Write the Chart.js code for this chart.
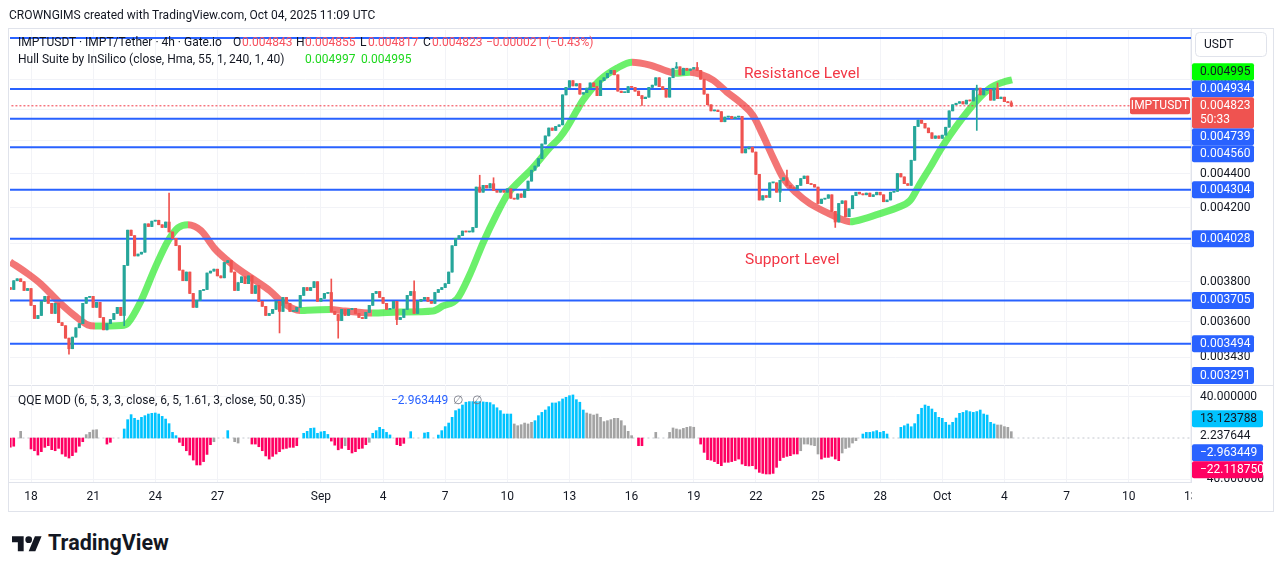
<!DOCTYPE html>
<html>
<head>
<meta charset="utf-8">
<script src="https://cdn.jsdelivr.net/npm/chart.js@4/dist/chart.umd.min.js"></script>
<style>
  body { margin: 0; width: 1281px; height: 571px; background: #fff; position: relative; overflow: hidden; font-family: Roboto, sans-serif; color: #131722; }
  canvas { position: absolute; left: 0; }
  .t { position: absolute; white-space: nowrap; font-size: 12px; line-height: 14px; }
  .hl { position: absolute; background: #e0e3eb; }
  .red { color: #f7525f; }
  .grn { color: #1ed81e; }
</style>
</head>
<body>
<div class="hl" style="left:8px;top:28px;width:1265px;height:1px"></div>
<div class="hl" style="left:8px;top:511px;width:1265px;height:1px"></div>
<div class="hl" style="left:8px;top:28px;width:1px;height:484px"></div>
<div class="hl" style="left:1273px;top:28px;width:1px;height:484px"></div>
<div class="hl" style="left:8px;top:385px;width:1265px;height:1px"></div>
<div class="hl" style="left:8px;top:482px;width:1265px;height:1px"></div>
<div class="hl" style="left:1191px;top:28px;width:1px;height:454px"></div>

<canvas id="main" width="1281" height="385" style="top:0"></canvas>
<canvas id="qqe" width="1281" height="125" style="top:385px"></canvas>

<div class="t" style="left:9px;top:8px">CROWNGIMS created with TradingView.com, Oct 04, 2025 11:09 UTC</div>

<div class="t" style="left:18px;top:35px">IMPTUSDT · IMPT/Tether · 4h · Gate.io</div>
<div class="t" style="left:233px;top:35px">O</div><div class="t red" style="left:242px;top:35px">0.004843</div>
<div class="t" style="left:296px;top:35px">H</div><div class="t red" style="left:305px;top:35px">0.004855</div>
<div class="t" style="left:360px;top:35px">L</div><div class="t red" style="left:368px;top:35px">0.004817</div>
<div class="t" style="left:423px;top:35px">C</div><div class="t red" style="left:432px;top:35px">0.004823</div>
<div class="t red" style="left:486px;top:35px">−0.000021 (−0.43%)</div>

<div class="t" style="left:18px;top:52px">Hull Suite by InSilico (close, Hma, 55, 1, 240, 1, 40)</div>
<div class="t grn" style="left:305px;top:52px">0.004997</div>
<div class="t grn" style="left:361px;top:52px">0.004995</div>

<div class="t" style="left:18px;top:393px">QQE MOD (6, 5, 3, 3, close, 6, 5, 1.61, 3, close, 50, 0.35)</div>
<div class="t" style="left:391px;top:393px;color:#2962ff">−2.963449</div>
<div class="t" style="left:453px;top:393px;color:#787b86">∅</div>
<div class="t" style="left:472px;top:393px;color:#787b86">∅</div>

<div style="position:absolute;left:12px;top:530px;display:flex;align-items:center">
  <svg width="30" height="20" viewBox="0 0 36 24">
    <path d="M14 22H7V11H0V4h14v18zM28 22h-8l7.5-18h8L28 22z" fill="#131722"/>
    <circle cx="20" cy="8" r="4" fill="#131722"/>
  </svg>
  <span style="font:700 21.5px Roboto, sans-serif;margin-left:6px">TradingView</span>
</div>

<script>
// prices are in millionths of USDT (4823 -> 0.004823)
// 4h candles, first one opens 17 Aug 00:00 UTC, last one 4 Oct 08:00 UTC
const firstOpen = 3770;
const closes = [
  3760, 3805, 3815, 3800, 3755, 3765, // Aug 17
  3680, 3615, 3630, 3700, 3725, 3690, // Aug 18
  3640, 3690, 3595, 3580, 3520, 3470,
  3525, 3570, 3590, 3690, 3720, 3725,
  3670, 3695, 3620, 3560, 3590, 3610,
  3640, 3670, 3630, 3885, 4075, 4045,
  3935, 3945, 3955, 4110, 4095, 4125,
  4130, 4105, 4090, 4120, 4065, 4030,
  3990, 3860, 3805, 3850, 3740, 3670,
  3705, 3755, 3760, 3845, 3855, 3865,
  3830, 3820, 3900, 3910, 3850, 3755,
  3795, 3825, 3790, 3830, 3740, 3780,
  3700, 3675, 3630, 3640, 3660, 3700,
  3650, 3720, 3690, 3650, 3650, 3670,
  3730, 3770, 3755, 3770, 3800, 3700, // Aug 31
  3715, 3740, 3745, 3650, 3635, 3605, // Sep 1
  3660, 3630, 3660, 3665, 3640, 3620,
  3615, 3645, 3680, 3740, 3750, 3720,
  3690, 3660, 3665, 3700, 3610, 3620,
  3660, 3730, 3750, 3640, 3700, 3710,
  3720, 3700, 3690, 3745, 3760, 3770,
  3790, 3850, 3990, 4030, 4045, 4070,
  4065, 4065, 4090, 4320, 4290, 4330,
  4315, 4340, 4300, 4290, 4300, 4290,
  4310, 4255, 4250, 4280, 4260, 4300,
  4355, 4420, 4445, 4490, 4580, 4630,
  4680, 4665, 4690, 4700, 4895, 4945,
  4990, 4955, 4970, 4900, 4910, 4940,
  4975, 4950, 4890, 4990, 5010, 5040,
  5060, 5030, 4920, 4910, 4910, 4950,
  4945, 4920, 4890, 4870, 4880, 4945,
  4960, 5010, 4950, 4930, 4880, 5010,
  5075, 5085, 5030, 5075, 5060, 5070,
  5080, 5060, 5000, 4900, 4830, 4790,
  4795, 4785, 4720, 4750, 4755, 4740,
  4750, 4755, 4525, 4550, 4560, 4530,
  4395, 4245, 4270, 4260, 4345, 4345,
  4290, 4360, 4375, 4330, 4315, 4310,
  4330, 4370, 4385, 4340, 4335, 4320,
  4225, 4250, 4255, 4275, 4180, 4120,
  4225, 4240, 4150, 4195, 4270, 4290,
  4280, 4275, 4285, 4265, 4275, 4290,
  4275, 4235, 4245, 4290, 4295, 4400,
  4380, 4340, 4330, 4480, 4690, 4730,
  4710, 4680, 4650, 4615, 4630, 4615, // Sep 30
  4635, 4685, 4790, 4830, 4840, 4850, // Oct 1
  4835, 4860, 4855, 4925, 4940, 4895,
  4925, 4930, 4860, 4940, 4870, 4880,
  4850, 4843, 4823                    // Oct 4
];
// [candle index, price] for the visible wicks
const highWicks = [[46, 4285], [93, 3814], [117, 3805], [136, 4390], [140, 4375], [193, 5115],
  [199, 5115], [225, 4420], [280, 4960], [286, 4975], [290, 4855]];
const lowWicks = [[17, 3445], [33, 3580], [78, 3545], [95, 3520], [112, 3585], [183, 4826],
  [223, 4235], [239, 4090], [280, 4665], [290, 4817]];

// Hull suite: time in days from 18 Aug 00:00 UTC
const hullDays = [-1.01, -0.14, 0.48, 1.30, 2.13, 2.75, 3.09, 4.35, 4.68, 5.31, 5.99, 6.62, 7.10, 7.58,
  8.21, 8.88, 9.51, 10.14, 10.86, 11.54, 12.17, 12.99, 13.33, 14.44, 15.16, 16.47, 17.82, 19.41,
  19.89, 20.57, 21.20, 21.83, 22.50, 23.03, 23.47, 24.24, 25.06, 25.54, 25.88, 26.36, 26.65, 27.47,
  28.30, 29.02, 29.89, 30.71, 31.10, 31.82, 32.30, 32.93, 33.61, 34.24, 34.86, 35.34, 35.83, 36.31,
  36.99, 37.61, 38.43, 39.06, 39.55, 40.37, 41.14, 41.82, 42.44, 42.93, 43.41, 43.89, 44.37, 45.00,
  45.68, 46.31, 46.93, 47.37];
const hullValues = [3904, 3840, 3788, 3702, 3627, 3583, 3578, 3581, 3593, 3702, 3872, 4017, 4088, 4105,
  4072, 3973, 3909, 3856, 3804, 3753, 3692, 3654, 3656, 3659, 3652, 3642, 3647, 3652,
  3677, 3712, 3840, 4006, 4167, 4282, 4341, 4436, 4558, 4621, 4684, 4794, 4859, 4994,
  5076, 5117, 5097, 5055, 5041, 5048, 5035, 4994, 4913, 4846, 4761, 4634, 4497, 4376,
  4282, 4224, 4173, 4139, 4122, 4144, 4173, 4201, 4241, 4341, 4436, 4540, 4634, 4748,
  4859, 4940, 4980, 4996];
const hullLast = 4995;
const lastPrice = 4823;
const countdown = '50:33';

// horizontal lines drawn on the chart
const levelPrices = [5287, 4934, 4739, 4560, 4304, 4028, 3705, 3494, 3291];
const priceTicks = [3430, 3600, 3800, 4000, 4200, 4400, 4600, 4800, 5000];

const dateTicks = [0, 3, 6, 9, 14, 17, 20, 23, 26, 29, 32, 35, 38, 41, 44, 47, 50, 53, 56];
const dateLabels = ['18', '21', '24', '27', 'Sep', '4', '7', '10', '13', '16', '19', '22', '25', '28', 'Oct', '4', '7', '10', '13'];

// QQE MOD histogram, one value per candle; colour codes b blue, p pink, g grey, . none
const qqeValues = [
  -9, -8, null, 6.5, null, null,
  -10.7, -12.4, -16.6, -13.3, -9.1, -7.5,
  -11.4, -12.4, -10.1, -15.6, -17.9, -19.5,
  -17.2, -13.9, -8, -3.6, 3.3, 5.5,
  7.8, 8.1, null, null, -5.9, -4.2,
  null, null, null, 8.8, 17.9, 22.8,
  19.2, 17.4, 20.2, 21.8, 23.4, 24.1,
  24.4, 23.4, 21.1, 18.5, 14, 5.5,
  2.3, -4.2, -7.5, -12.4, -16.6, -21.5,
  -26.3, -26.3, -23, -16, -6.5, -3.6,
  null, null, null, 7.2, null, -3.6,
  -4.9, null, null, null, -5.9, -5.9,
  -8.5, -12.4, -17.5, -20.5, -17.9, -15.6,
  -13.3, -10.7, -10.1, -9.1, -9.1, -7.5,
  null, 4.6, 6.5, 9.4, 9.8, 4.6,
  6, 6.5, 3.5, -3, -7, -11.5,
  -10.1, -7.5, -11.4, -14.6, -13.3, -10.5,
  -10, -6.5, -4.2, 4.6, 7.2, 10.4,
  8.5, 5.5, 3, null, -6.5, -7.5,
  -5.2, null, 6.2, null, null, null,
  4.9, 5.5, null, null, 2.9, 7.2,
  11.1, 14.6, 20.2, 26.7, 28.3, 32.2,
  34.9, 35.5, 35.5, 35.5, 35.5, 35.2,
  34.9, 34.5, 32.5, 29.5, 26.7, 23.4,
  23.4, 23.4, 13.7, 12, 13, 14.6,
  13.7, 15.3, 16.9, 21.8, 25, 27.3,
  30.6, 34.2, 34.2, 35.5, 38.1, 39.7,
  41.3, 42, 37.4, 34.9, 27.3, 24.4,
  23.4, 22.4, 23.4, 20.2, 16, 16.9,
  17.9, 19.2, 19.2, 16.9, 12, 6.5,
  2.3, null, -7.5, -7.5, null, null,
  null, 5.5, null, null, null, 5.5,
  9.8, 8.8, 8.1, 9.4, 10.4, 11.1,
  10.5, null, -5.9, -14, -21.1, -21.6,
  -23, -25, -27, -23.7, -23.7, -23,
  -22, -20.5, -25.4, -27, -27.3, -27,
  -30.2, -33.5, -34.5, -35.1, -35.1, -34.5,
  -28.6, -22, -19, -17.9, -17.2, -15.6,
  -15.6, -12.4, -5.9, -5.9, -6.8, -7.5,
  -15.6, -20.5, -18.9, -18.9, -17.8, -20.5,
  -22.1, -14.6, -10.2, -9.1, -4.9, -2.6,
  null, 3.9, 5.5, 5.5, 6.2, 7.2,
  5.5, 6.5, 3.9, null, null, null,
  10.4, 12, 13.7, 11, 14, 23,
  29, 32.2, 31, 28.3, 25, 20.2,
  19.2, 15.3, 12.7, 15.3, 19.5, 24.1,
  25, 26.7, 25.7, 25, 25.8, 27.3,
  23.4, 22.4, 15.3, 13.7, 12.7, 12.7,
  11.1, 10.4, 6.2
];
const qqeColors = [
  'pp.g..', 'pppppp', 'pppppp', 'ppppgg', 'gg..pp', '...bbb', 'bbbbbb', 'bbbbbb',
  'bppppp', 'pppppg', '...b.g', 'g...pp', 'pppppp', 'pppppp', '.bbbbb', 'bbbppp',
  'pgpppp', 'ppgbbb', 'bbb.pp', 'p.b...', 'bb..bb', 'bbbbbb', 'bbbbbb', 'bbbbbb',
  'bbgggg', 'ggbbbb', 'bbbbbb', 'bbbbbg', 'gggggg', 'gggggg', 'g.pp..', '.g...g',
  'gggggg', 'g.pppp', 'pppppp', 'pppppp', 'pppppp', 'pppppp', 'pggggg', 'gppppp',
  'pggggg', '.bbbbb', 'bbb...', 'bbbbbb', 'bbbbbb', 'bbbbbb', 'bbbbbb', 'bbbbgg', 'ggg'
].join('');
const qqeTicks = [-40, 40];
const qqeHistLast = 2.237644;
const qqeUpper = 13.123788;
const qqeLine = -2.963449;
const qqeLower = -22.11875;

const UP = '#26a69a';
const DOWN = '#ef5350';
const LEVEL = '#2962ff';
const GRID = '#f2f3f7';
const QQE_COLORS = { b: '#00c3ff', p: '#ff0062', g: '#a3a3a3' };

Chart.defaults.font.family = 'Roboto, sans-serif';
Chart.defaults.font.size = 12;
Chart.defaults.color = '#131722';
Chart.defaults.animation = false;

const candleTime = i => -1 + i / 6;
const fmt = (v, d) => v.toFixed(d).replace('-', '−');
const usd = v => fmt(v / 1e6, 6);

const opens = closes.map((c, i) => i === 0 ? firstOpen : closes[i - 1]);
const highs = closes.map((c, i) => Math.max(c, opens[i]));
const lows = closes.map((c, i) => Math.min(c, opens[i]));
highWicks.forEach(([i, v]) => { highs[i] = v; });
lowWicks.forEach(([i, v]) => { lows[i] = v; });
const candleColors = closes.map((c, i) => c >= opens[i] ? UP : DOWN);

const X_MIN = -1.014, X_MAX = 56.01;

// axis boxes sized by hand, no label padding pushed into the plot area
const fixWidth = s => { s.width = 82; s.paddingTop = 0; s.paddingBottom = 0; };
const fixHeight = h => s => { s.height = h; s.paddingLeft = 0; s.paddingRight = 0; };

// keep the price tags from overlapping: the anchor stays, others move away from it
function stackTags(tags, anchor, top, bottom) {
  const above = tags.filter(t => t !== anchor && t.y < anchor.y).sort((a, b) => b.y - a.y);
  let limit = anchor.y - anchor.up;
  above.forEach(t => { t.y = Math.min(t.y, limit - t.down); limit = t.y - t.up; });
  const below = tags.filter(t => t !== anchor && t.y >= anchor.y).sort((a, b) => a.y - b.y);
  limit = anchor.y + anchor.down;
  below.forEach(t => { t.y = Math.max(t.y, limit + t.up); limit = t.y + t.down; });
  tags.forEach(t => { t.y = Math.max(top + t.up, Math.min(bottom - t.down, t.y)); });
}

function drawTag(ctx, x, t, w) {
  if (t.bg) {
    ctx.fillStyle = t.bg;
    ctx.beginPath();
    ctx.roundRect(x, t.y - t.up, w, t.up + t.down, 2);
    ctx.fill();
  }
  ctx.fillStyle = t.fg;
  ctx.font = '12px Roboto, sans-serif';
  ctx.textAlign = 'left';
  ctx.textBaseline = 'middle';
  t.lines.forEach((s, k) => ctx.fillText(s, x + 8, t.y + k * 14));
}

const mainOverlay = {
  id: 'mainOverlay',
  afterDraw(chart) {
    const { ctx, chartArea: a, scales: { x, y } } = chart;
    ctx.save();

    ctx.font = '15.5px Roboto, sans-serif';
    ctx.fillStyle = '#f23645';
    ctx.textAlign = 'left';
    ctx.textBaseline = 'middle';
    ctx.fillText('Resistance Level', x.getPixelForValue(34.43), y.getPixelForValue(5035));
    ctx.fillText('Support Level', x.getPixelForValue(34.48), y.getPixelForValue(3915));

    const anchor = { y: y.getPixelForValue(lastPrice), up: 8.5, down: 22.5, bg: '#ef5350', fg: '#fff', lines: [usd(lastPrice), countdown] };
    const tags = levelPrices.map(p => ({ y: y.getPixelForValue(p), up: 8.5, down: 8.5, bg: LEVEL, fg: '#fff', lines: [usd(p)] }));
    tags.push({ y: y.getPixelForValue(hullLast), up: 8.5, down: 8.5, bg: '#00ff00', fg: '#131722', lines: [usd(hullLast)] });
    tags.push(anchor);
    const shown = tags.filter(t => t.y > a.top + 20);
    stackTags(shown, anchor, a.top, a.bottom);
    shown.forEach(t => drawTag(ctx, a.right + 1, t, 62));

    // symbol tag left of the axis
    ctx.fillStyle = '#ef5350';
    ctx.beginPath();
    ctx.roundRect(a.right - 61, anchor.y - 8.5, 60, 17, 2);
    ctx.fill();
    ctx.fillStyle = '#fff';
    ctx.textAlign = 'center';
    ctx.fillText('IMPTUSDT', a.right - 31, anchor.y);

    // currency box
    ctx.fillStyle = '#fff';
    ctx.strokeStyle = '#e0e3eb';
    ctx.beginPath();
    ctx.roundRect(1195.5, 32.5, 71, 24, 4);
    ctx.fill();
    ctx.stroke();
    ctx.fillStyle = '#131722';
    ctx.textAlign = 'left';
    ctx.fillText('USDT', 1204, 44.5);
    ctx.restore();
  }
};

new Chart(document.getElementById('main'), {
  type: 'bar',
  data: {
    datasets: [
      {
        type: 'bar',
        data: closes.map((c, i) => ({ x: candleTime(i), y: [opens[i], c] })),
        backgroundColor: candleColors,
        barThickness: 2.5,
        minBarLength: 1,
        grouped: false,
        order: 0
      },
      {
        type: 'bar',
        data: closes.map((c, i) => ({ x: candleTime(i), y: [lows[i], highs[i]] })),
        backgroundColor: candleColors,
        barThickness: 1,
        grouped: false,
        order: 1
      },
      ...levelPrices.map(p => ({
        type: 'line',
        data: [{ x: -5, y: p }, { x: 60, y: p }],
        borderColor: LEVEL,
        borderWidth: 2,
        pointRadius: 0,
        order: 2
      })),
      {
        type: 'line',
        data: [{ x: -5, y: lastPrice }, { x: 60, y: lastPrice }],
        borderColor: '#f23645',
        borderWidth: 1,
        borderDash: [2, 2],
        pointRadius: 0,
        order: 2
      },
      {
        type: 'line',
        data: hullDays.map((d, i) => ({ x: d, y: hullValues[i] })),
        borderColor: 'rgba(0,230,0,0.6)',
        borderWidth: 7,
        pointRadius: 0,
        cubicInterpolationMode: 'monotone',
        segment: {
          borderColor: c => c.p1.parsed.y >= c.p0.parsed.y ? 'rgba(0,230,0,0.58)' : 'rgba(235,25,25,0.6)'
        },
        order: 3
      }
    ]
  },
  options: {
    responsive: false,
    layout: { padding: { left: 10, top: 30, right: 8, bottom: 1 } },
    plugins: { legend: { display: false }, tooltip: { enabled: false } },
    scales: {
      x: {
        type: 'linear',
        min: X_MIN,
        max: X_MAX,
        offset: false,
        afterBuildTicks: s => { s.ticks = dateTicks.map(v => ({ value: v })); },
        afterFit: fixHeight(0),
        ticks: { display: false },
        grid: { color: GRID, offset: false, drawTicks: false },
        border: { display: false }
      },
      y: {
        type: 'logarithmic',
        position: 'right',
        min: 3308,
        max: 5345,
        afterBuildTicks: s => { s.ticks = priceTicks.map(v => ({ value: v })); },
        afterFit: fixWidth,
        ticks: { callback: v => usd(v), autoSkip: false, padding: 9, color: '#131722' },
        grid: { color: GRID, drawTicks: false },
        border: { display: false }
      }
    }
  },
  plugins: [mainOverlay]
});

const qqeOverlay = {
  id: 'qqeOverlay',
  afterDraw(chart) {
    const { ctx, chartArea: a, scales: { y } } = chart;
    ctx.save();
    // price-axis corner below the pane stays blank
    ctx.fillStyle = '#fff';
    ctx.fillRect(a.right + 1, a.bottom, chart.width - a.right - 9, chart.height - a.bottom - 1);
    const anchor = { y: y.getPixelForValue(qqeHistLast), up: 8.5, down: 8.5, bg: null, fg: '#131722', lines: [fmt(qqeHistLast, 6)] };
    const tags = [
      { y: y.getPixelForValue(qqeUpper), up: 8.5, down: 8.5, bg: '#00c3ff', fg: '#131722', lines: [fmt(qqeUpper, 6)] },
      { y: y.getPixelForValue(qqeLine), up: 8.5, down: 8.5, bg: LEVEL, fg: '#fff', lines: [fmt(qqeLine, 6)] },
      { y: y.getPixelForValue(qqeLower), up: 8.5, down: 8.5, bg: '#ff0062', fg: '#fff', lines: [fmt(qqeLower, 6)] },
      anchor
    ];
    stackTags(tags, anchor, a.top, a.bottom);
    tags.forEach(t => drawTag(ctx, a.right + 1, t, 71));
    ctx.restore();
  }
};

const qqeBars = [];
const qqeBarColors = [];
qqeValues.forEach((v, i) => {
  if (v === null) return;
  qqeBars.push({ x: candleTime(i), y: v });
  qqeBarColors.push(QQE_COLORS[qqeColors[i]]);
});

new Chart(document.getElementById('qqe'), {
  type: 'bar',
  data: {
    datasets: [
      {
        type: 'bar',
        data: qqeBars,
        backgroundColor: qqeBarColors,
        barThickness: 2,
        grouped: false,
        order: 0
      },
      {
        type: 'line',
        data: [{ x: -5, y: 0 }, { x: 60, y: 0 }],
        borderColor: '#c3c6ce',
        borderWidth: 1,
        borderDash: [2, 3],
        pointRadius: 0,
        order: 1
      }
    ]
  },
  options: {
    responsive: false,
    layout: { padding: { left: 10, top: 0, right: 8, bottom: 0 } },
    plugins: { legend: { display: false }, tooltip: { enabled: false } },
    scales: {
      x: {
        type: 'linear',
        min: X_MIN,
        max: X_MAX,
        offset: false,
        afterBuildTicks: s => { s.ticks = dateTicks.map(v => ({ value: v })); },
        afterFit: fixHeight(28),
        ticks: {
          callback: v => dateLabels[dateTicks.indexOf(v)],
          autoSkip: false,
          maxRotation: 0,
          padding: 8,
          color: '#131722'
        },
        grid: { color: GRID, offset: false, drawTicks: false },
        border: { display: false }
      },
      y: {
        type: 'linear',
        position: 'right',
        min: -42.9,
        max: 51.7,
        afterBuildTicks: s => { s.ticks = qqeTicks.map(v => ({ value: v })); },
        afterFit: fixWidth,
        ticks: { callback: v => fmt(v, 6), autoSkip: false, padding: 9, color: '#131722' },
        grid: { color: GRID, drawTicks: false },
        border: { display: false }
      }
    }
  },
  plugins: [qqeOverlay]
});
</script>
</body>
</html>
